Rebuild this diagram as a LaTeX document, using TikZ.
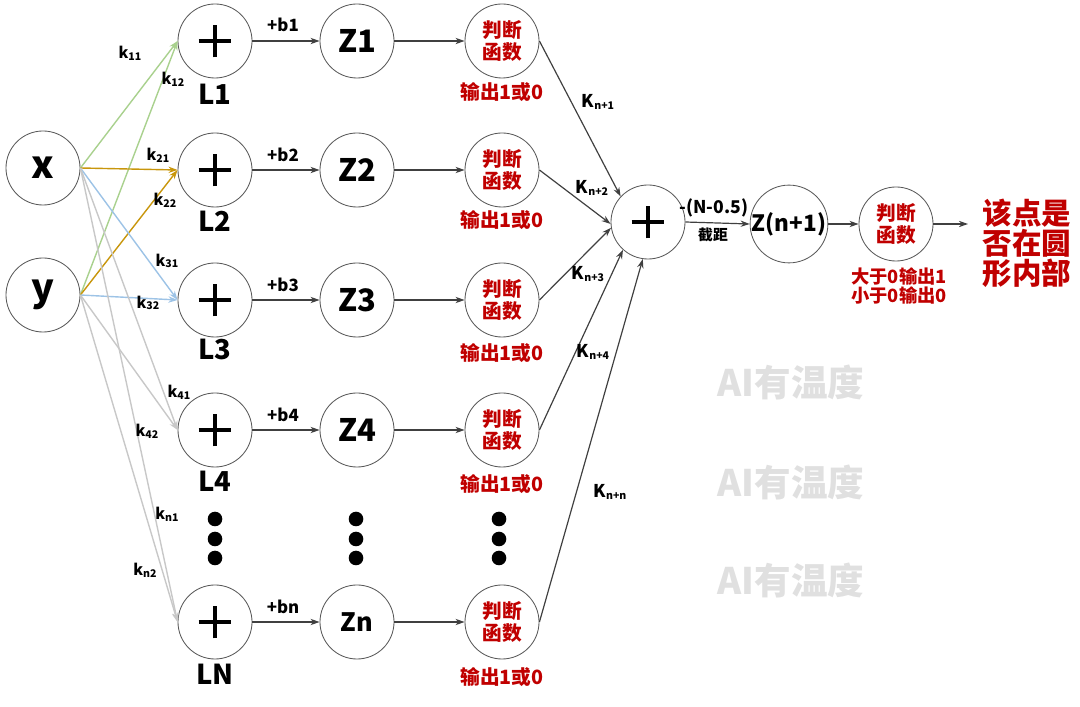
\documentclass[tikz,border=0pt]{standalone}
\usepackage{fontspec}
\setmainfont{Noto Sans CJK SC}
\usetikzlibrary{arrows.meta}
\definecolor{jred}{HTML}{C00000}
\definecolor{egreen}{HTML}{A9D18E}
\definecolor{eorange}{HTML}{C8960C}
\definecolor{eblue}{HTML}{9DC3E6}
\definecolor{egray}{HTML}{C8C8C8}
\definecolor{wmark}{HTML}{E0E0E0}
\newcommand\ksub[2]{#1\raisebox{-0.2ex}{\fontsize{7.5}{8}\selectfont #2}}
\begin{document}
\begin{tikzpicture}[x=0.025cm,y=-0.025cm,
  circ/.style={circle,draw=black!65,line width=0.6pt,minimum size=1.85cm,inner sep=0pt,font=\bfseries\fontsize{22}{24}\selectfont},
  plus/.style={circ,path picture={
     \draw[black,line width=2.2pt] ([xshift=-0.41cm]path picture bounding box.center) -- ([xshift=0.41cm]path picture bounding box.center);
     \draw[black,line width=2.2pt] ([yshift=-0.41cm]path picture bounding box.center) -- ([yshift=0.41cm]path picture bounding box.center);}},
  judge/.style={circ,text=jred,align=center,font=\bfseries\fontsize{14}{15}\selectfont},
  arr/.style={draw=black!75,line width=0.85pt,-{Stealth[length=6.5pt,width=4.5pt]}},
  inarr/.style={line width=1pt,-{Stealth[length=6.5pt,width=4.5pt]}},
  llab/.style={font=\bfseries\fontsize{19.5}{20}\selectfont},
  olab/.style={text=jred,font=\bfseries\fontsize{14}{15}\selectfont},
  blab/.style={font=\bfseries\fontsize{12}{13}\selectfont},
  klab/.style={font=\bfseries\fontsize{11}{12}\selectfont},
  Klab/.style={font=\bfseries\fontsize{12.5}{13}\selectfont},
  wm/.style={text=wmark,font=\bfseries\fontsize{26}{27}\selectfont},
  dot/.style={circle,fill=black,minimum size=14.6*0.025cm,inner sep=0pt}
]
\useasboundingbox (0,0) rectangle (1080,707);

% inputs
\node[circ,font=\bfseries\fontsize{27}{28}\selectfont] (x) at (43,168) {x};
\node[circ,font=\bfseries\fontsize{27}{28}\selectfont] (y) at (43,295) {y};

% columns
\foreach \r/\yy in {1/41,2/170,3/300,4/430,N/622}{
  \node[plus] (L\r) at (215,\yy) {};
  \node[judge] (J\r) at (502,\yy) {判断\\函数};
}
\node[circ] (Z1) at (357,41) {Z1};
\node[circ] (Z2) at (357,170) {Z2};
\node[circ] (Z3) at (357,300) {Z3};
\node[circ] (Z4) at (357,430) {Z4};
\node[circ,font=\bfseries\fontsize{18}{20}\selectfont] (ZN) at (357,622) {Zn};

\node[llab] (l1) at (215,94) {L1};
\node[llab] (l2) at (215,221) {L2};
\node[llab] (l3) at (215,349) {L3};
\node[llab] (l4) at (215,481) {L4};
\node[llab] (lN) at (215,674) {LN};

\node[olab] (o1) at (502,92) {输出1或0};
\node[olab] (o2) at (502,220) {输出1或0};
\node[olab] (o3) at (502,353) {输出1或0};
\node[olab] (o4) at (502,484) {输出1或0};
\node[olab] (oN) at (502,677) {输出1或0};

% dots
\foreach \xx/\c in {215/a,356/b,499/c}{
  \node[dot] (d\c1) at (\xx,519) {};
  \node[dot] (d\c2) at (\xx,539) {};
  \node[dot] (d\c3) at (\xx,558) {};
}

% sum and output chain
\node[plus] (S) at (648,222) {};
\node[circ,font=\bfseries\fontsize{16}{18}\selectfont] (Zn1) at (789,224) {Z(n+1)};
\node[judge] (JF) at (896,224) {判断\\函数};
\coordinate (E) at (968,224);

% input edges
\draw[inarr,egreen] (x.east) -- (L1.west);
\draw[inarr,egreen] (y.east) -- (L1.west);
\draw[inarr,eorange] (x.east) -- (L2.west);
\draw[inarr,eorange] (y.east) -- (L2.west);
\draw[inarr,eblue] (x.east) -- (L3.west);
\draw[inarr,eblue] (y.east) -- (L3.west);
\draw[inarr,egray] (x.east) -- (L4.west);
\draw[inarr,egray] (y.east) -- (L4.west);
\draw[inarr,egray] (x.east) -- (LN.west);
\draw[inarr,egray] (y.east) -- (LN.west);

\node[klab] (k11) at (130,53) {\ksub{k}{11}};
\node[klab] (k12) at (173,79) {\ksub{k}{12}};
\node[klab] (k21) at (158,155) {\ksub{k}{21}};
\node[klab] (k22) at (165,200) {\ksub{k}{22}};
\node[klab] (k31) at (167,261) {\ksub{k}{31}};
\node[klab] (k32) at (148,303) {\ksub{k}{32}};
\node[klab] (k41) at (179,392) {\ksub{k}{41}};
\node[klab] (k42) at (147,431) {\ksub{k}{42}};
\node[klab] (kn1) at (167,514) {\ksub{k}{n1}};
\node[klab] (kn2) at (145,570) {\ksub{k}{n2}};

% row edges
\foreach \r in {1,2,3,4,N}{
  \draw[arr] (L\r.east) -- (Z\r.west);
  \draw[arr] (Z\r.east) -- (J\r.west);
}
\node[blab] (b1) at (283,25) {+b1};
\node[blab] (b2) at (283,155) {+b2};
\node[blab] (b3) at (283,285) {+b3};
\node[blab] (b4) at (283,415) {+b4};
\node[blab] (bN) at (283,607) {+bn};

% to sum
\draw[arr] (J1.east) -- (S.137);
\draw[arr] (J2.east) -- (S.183);
\draw[arr] (J3.east) -- (S.189);
\draw[arr] (J4.east) -- (S.228);
\draw[arr] (JN.east) -- (S.262);
\node[Klab] (K1) at (598,102) {\ksub{K}{n+1}};
\node[Klab] (K2) at (592,188) {\ksub{K}{n+2}};
\node[Klab] (K3) at (588,274) {\ksub{K}{n+3}};
\node[Klab] (K4) at (593,352) {\ksub{K}{n+4}};
\node[Klab] (Kn) at (610,492) {\ksub{K}{n+n}};

\draw[arr] (S.east) -- (Zn1.west);
\node[font=\bfseries\fontsize{12.5}{13}\selectfont] (bias) at (714,208) {-(N-0.5)};
\node[font=\bfseries\fontsize{10.5}{11}\selectfont] (jieju) at (713,235) {截距};
\draw[arr] (Zn1.east) -- (JF.west);
\draw[arr] (JF.east) -- (E);
\node[text=jred,align=center,font=\bfseries\fontsize{13}{13.5}\selectfont] (rule) at (899,286) {大于0输出1\\小于0输出0};
\node[text=jred,align=center,font=\bfseries\fontsize{21}{21.3}\selectfont] (res) at (1027,243) {该点是\\否在圆\\形内部};

% watermarks
\node[wm] (w1) at (791,382) {AI有温度};
\node[wm] (w2) at (791,482) {AI有温度};
\node[wm] (w3) at (791,580) {AI有温度};
\end{tikzpicture}
\end{document}
